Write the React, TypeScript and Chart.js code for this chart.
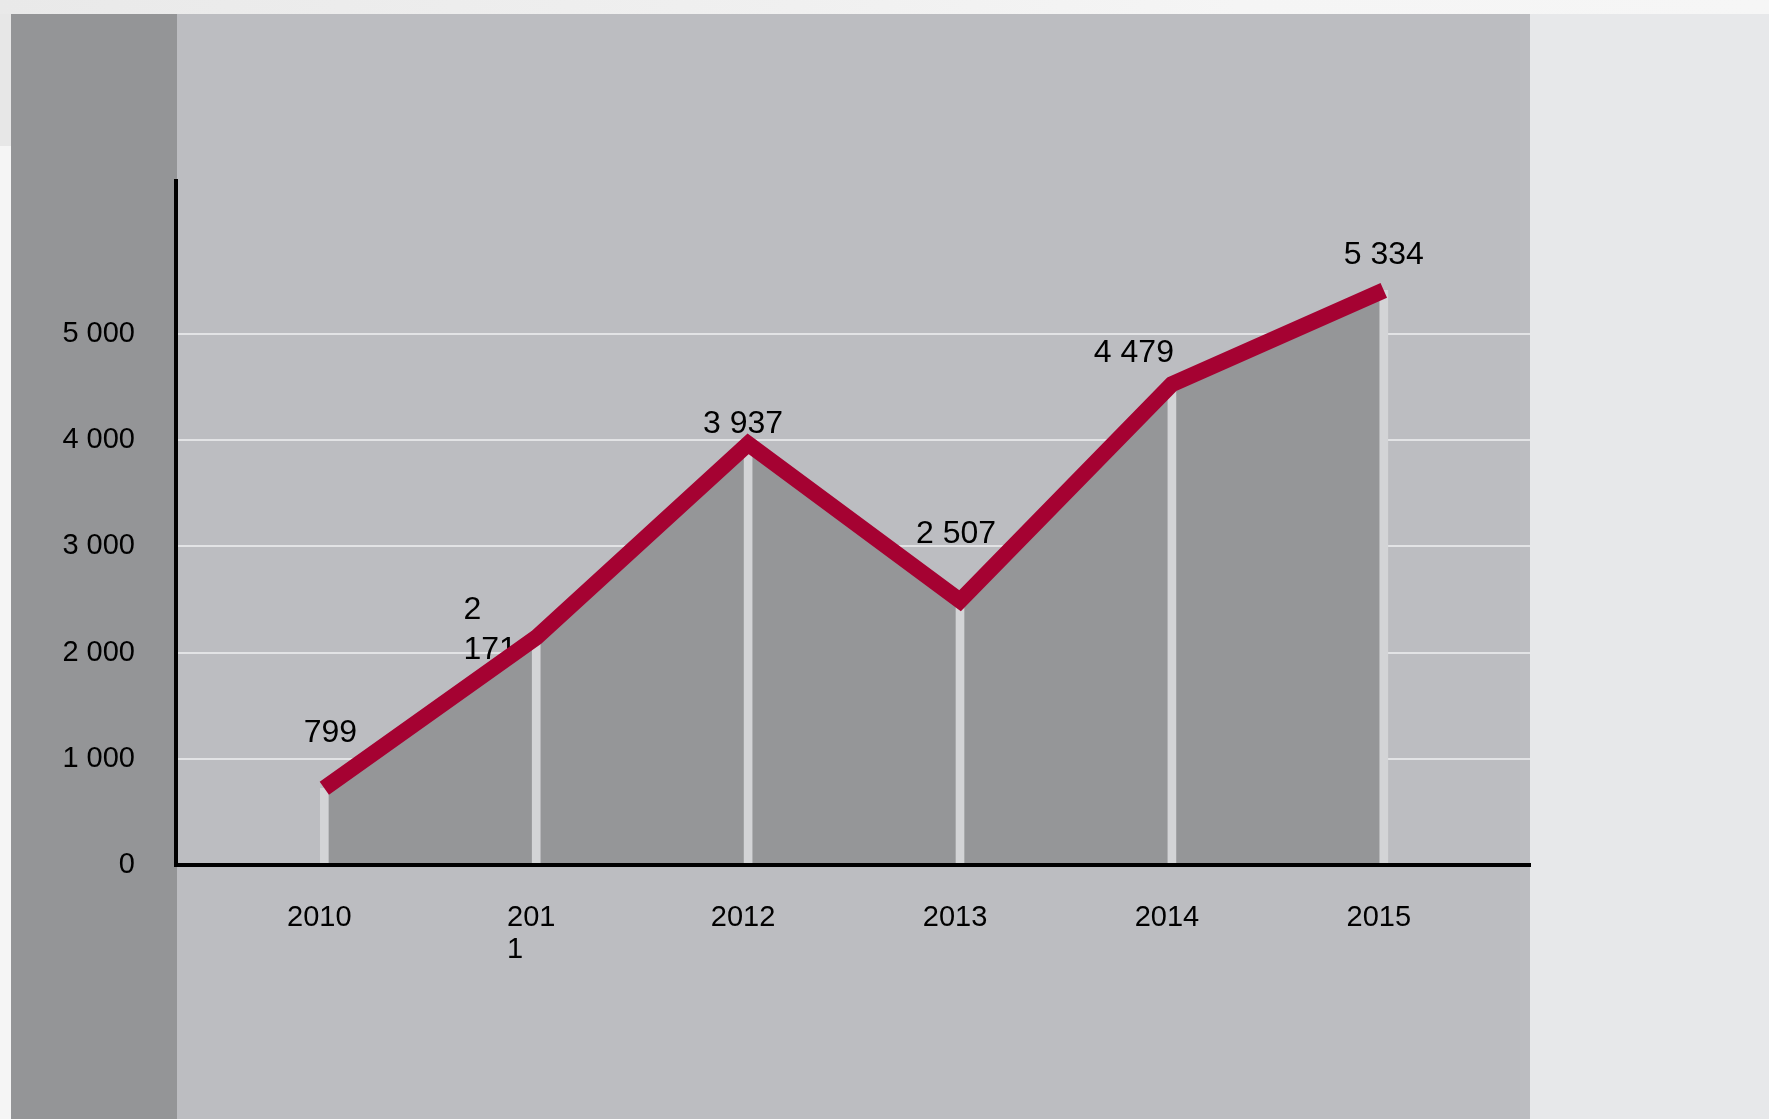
import React, { useEffect, useRef } from 'react';
import { Chart, registerables } from 'chart.js';

Chart.register(...registerables);

// ---- data ----
const categories = ['2010', '2011', '2012', '2013', '2014', '2015'];
const values = [799, 2171, 3937, 2507, 4479, 5334];
const xTickLabels: string[][] = [['2010'], ['201', '1    '], ['2012'], ['2013'], ['2014'], ['2015']];
const dataLabels: string[][] = [['799'], ['2', '171'], ['3 937'], ['2 507'], ['4 479'], ['5 334']];
const yTickValues = [0, 1000, 2000, 3000, 4000, 5000];
const yTickLabels = ['0', '1 000', '2 000', '3 000', '4 000', '5 000'];

// ---- style / layout ----
const W = 1769;
const H = 1119;
const FONT = "'Liberation Sans', Arial, Helvetica, sans-serif";
const labelOffsets: number[][] = [[6, -55], [-46, -7], [-5, -20], [-4, -67], [-38, -31], [0, -35]];

const dataLabelPlugin = {
  id: 'dataLabelsCustom',
  beforeDatasetDraw(chart: any, args: any) {
    if (args.index !== 0) return;
    const ctx = chart.ctx as CanvasRenderingContext2D;
    const meta = chart.getDatasetMeta(0);
    ctx.save();
    ctx.font = `32px ${FONT}`;
    ctx.fillStyle = '#000000';
    ctx.textBaseline = 'middle';
    ctx.textAlign = 'left';
    const lh = 40;
    meta.data.forEach((pt: any, i: number) => {
      const lines = dataLabels[i];
      const w = Math.max(...lines.map((l) => ctx.measureText(l).width));
      const cx = pt.x + labelOffsets[i][0];
      const cy = pt.y + labelOffsets[i][1];
      const left = cx - w / 2;
      const top = cy - ((lines.length - 1) * lh) / 2;
      lines.forEach((l, j) => ctx.fillText(l, left, top + j * lh));
    });
    ctx.restore();
  },
};

export default function App() {
  const ref = useRef<HTMLCanvasElement>(null);

  useEffect(() => {
    const points = categories.map((_, i) => ({ x: i, y: values[i] }));
    const chart = new Chart(ref.current as HTMLCanvasElement, {
      type: 'line',
      data: {
        datasets: [
          {
            type: 'line',
            label: 'value',
            data: points,
            yAxisID: 'y2',
            xAxisID: 'x',
            borderColor: '#a50232',
            borderWidth: 16,
            borderJoinStyle: 'miter',
            borderCapStyle: 'butt',
            backgroundColor: '#959698',
            fill: 'start',
            pointRadius: 0,
            pointHoverRadius: 0,
            tension: 0,
            order: 0,
          } as any,
          {
            type: 'bar',
            label: 'bars',
            data: points,
            yAxisID: 'y2',
            xAxisID: 'x',
            barThickness: 8,
            backgroundColor: '#d3d4d6',
            borderWidth: 0,
            order: 1,
          } as any,
        ],
      },
      options: {
        responsive: false,
        animation: false,
        devicePixelRatio: 1,
        layout: { padding: { left: 0, top: 181, right: 239, bottom: 0 } },
        plugins: {
          legend: { display: false },
          tooltip: { enabled: false },
          filler: { drawTime: 'beforeDatasetsDraw' } as any,
        },
        scales: {
          x: {
            type: 'linear',
            min: -0.7,
            max: 5.69,
            offset: false,
            afterBuildTicks: (s: any) => {
              s.ticks = categories.map((_, i) => ({ value: i }));
            },
            afterFit: (s: any) => {
              s.height = 254;
            },
            grid: { display: false, drawTicks: false },
            border: { display: true, color: '#000000', width: 4, z: 1 } as any,
            ticks: {
              autoSkip: false,
              maxRotation: 0,
              minRotation: 0,
              padding: 37,
              labelOffset: -5,
              color: '#000000',
              font: { family: FONT, size: 29, lineHeight: 1.1 },
              callback: (_v: any, i: number) => xTickLabels[i],
            },
          },
          y: {
            type: 'linear',
            min: 0,
            max: 6440,
            afterBuildTicks: (s: any) => {
              s.ticks = yTickValues.map((v) => ({ value: v }));
            },
            afterFit: (s: any) => {
              s.width = 176;
            },
            grid: { color: '#e2e3e5', lineWidth: 2, drawTicks: false },
            border: { display: true, color: '#000000', width: 4, z: 1 } as any,
            ticks: {
              padding: 41,
              color: '#000000',
              font: { family: FONT, size: 29 },
              callback: (_v: any, i: number) => yTickLabels[i],
            },
          },
          y2: {
            type: 'linear',
            display: false,
            min: 100,
            max: 6330,
          },
        },
      } as any,
      plugins: [dataLabelPlugin],
    });
    return () => chart.destroy();
  }, []);

  return (
    <div
      style={{
        position: 'absolute',
        left: 0,
        top: 0,
        width: W,
        height: H,
        overflow: 'hidden',
        background: '#f5f5f5',
      }}
    >
      <div
        style={{
          position: 'absolute',
          left: 0,
          top: 0,
          width: W,
          height: 14,
          background: 'linear-gradient(90deg, #e9e9e9 0%, #f0f0f0 45%, #f5f5f5 70%, #f6f6f6 100%)',
        }}
      />
      <div style={{ position: 'absolute', left: 0, top: 14, width: 11, height: 132, background: '#e7e7e7' }} />
      <div style={{ position: 'absolute', left: 11, top: 14, width: 1519, height: H - 14, background: '#bcbdc1' }} />
      <div style={{ position: 'absolute', left: 11, top: 14, width: 166, height: H - 14, background: '#949597' }} />
      <div style={{ position: 'absolute', left: 1530, top: 14, width: W - 1530, height: H - 14, background: '#e7e8ea' }} />
      <canvas
        ref={ref}
        width={W}
        height={H}
        style={{ position: 'absolute', left: 0, top: 0, width: W, height: H }}
      />
    </div>
  );
}
